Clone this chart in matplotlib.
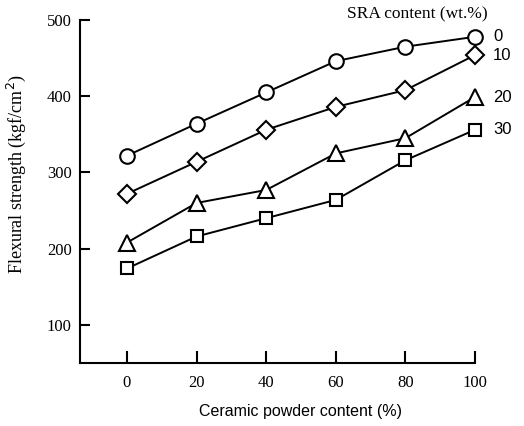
import matplotlib
matplotlib.use("Agg")
import matplotlib.pyplot as plt

# ceramic powder content (%)
ceramic = [0, 20, 40, 60, 80, 100]

# flexural strength (kgf/cm2) per SRA content
sra_labels = ["0", "10", "20", "30"]
sra_0 = [322, 364, 405, 446, 465, 478]
sra_10 = [272, 314, 356, 386, 408, 454]
sra_20 = [208, 260, 277, 325, 345, 399]
sra_30 = [174, 216, 240, 264, 316, 356]
series = [sra_0, sra_10, sra_20, sra_30]
markers = ["o", "D", "^", "s"]
msizes = [10.5, 9, 11, 8.5]

serif = ["Liberation Serif", "DejaVu Serif"]
sans = ["Liberation Sans", "DejaVu Sans"]

fig = plt.figure(figsize=(5.24, 4.26), dpi=100)
ax = fig.add_axes([0.1527, 0.1479, 0.7538, 0.8051])

for vals, m, ms in zip(series, markers, msizes):
    ax.plot(ceramic, vals, color="black", lw=1.4, marker=m, ms=ms,
            mfc="white", mec="black", mew=1.5, clip_on=False, zorder=3)

# end labels right of last point
for lab, vals in zip(sra_labels, series):
    ax.annotate(lab, (ceramic[-1], vals[-1]), xytext=(13, 0),
                textcoords="offset points", ha="left", va="center",
                fontsize=12, family=sans, annotation_clip=False)

ax.text(0.853, 1.015, "SRA content (wt.%)", transform=ax.transAxes,
        ha="center", va="center", fontsize=12.5, family=serif)

ax.set_xlim(-13.5, 100)
ax.set_ylim(50, 500)
ax.set_xticks(ceramic)
ax.set_yticks([100, 200, 300, 400, 500])

for s in ["top", "right"]:
    ax.spines[s].set_visible(False)
for s in ["left", "bottom"]:
    ax.spines[s].set_linewidth(1.5)

ax.tick_params(axis="y", direction="in", length=7, width=1.5, pad=6)
ax.tick_params(axis="x", direction="in", length=9, width=1.5, pad=9)
for t in ax.get_xticklabels() + ax.get_yticklabels():
    t.set_fontfamily(serif)
    t.set_fontsize(12)

ax.set_xlabel("Ceramic powder content (%)", family=sans, fontsize=11.5)
ax.set_ylabel("Flexural strength (kgf/cm$^2$)", family=serif, fontsize=13)
ax.xaxis.set_label_coords(0.557, -0.12)
ax.yaxis.set_label_coords(-0.132, 0.55)

fig.savefig("out.png", dpi=100)
